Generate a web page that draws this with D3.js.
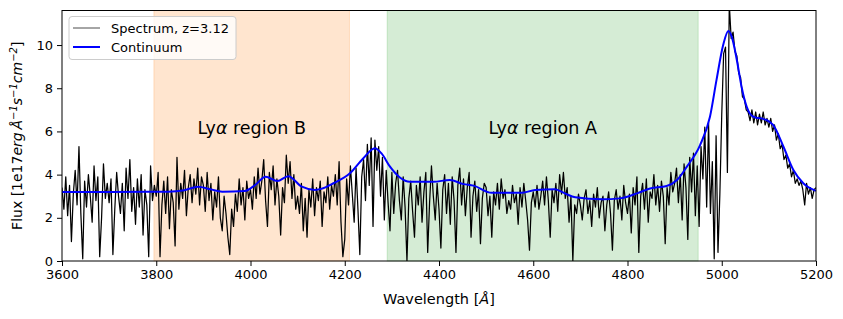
<!DOCTYPE html>
<html>
<head>
<meta charset="utf-8">
<script src="https://cdn.jsdelivr.net/npm/d3@7"></script>
<style>
  body { margin: 0; background: #fff; }
  svg { font-family: "DejaVu Sans", sans-serif; }
</style>
</head>
<body>
<div class="svgWrap"></div>
<script>
// observed spectrum, flux sampled every 4 A from 3600 A
var waveStart = 3600;
var waveStep = 4;
var flux = [
  3.4, 2.4, 3.9, 2.1, 3.5, 0.9, 3.1, 4.2, 2.6, 5.3, 2.2, 0.1, 3.7, 2.5, 4.0, 3.0, 1.8, 4.4, 2.8, 3.9, 0.2, 2.0, 4.5, 2.9, 3.6,
  2.7, 3.8, 0.3, 2.4, 4.1, 3.0, 2.2, 3.6, 1.4, 4.3, 2.9, 4.7, 2.3, 3.4, 1.7, 3.8, 2.5, 4.0, 1.2, 3.3, 2.6, 0.2, 4.4, 2.8, 3.5,
  3.0, 4.1, 0.2, 2.6, 3.7, 2.2, 3.9, 1.5, 3.3, 2.7, 0.7, 4.8, 2.4, 3.6, 2.9, 4.2, 2.1, 3.4, 4.0, 2.7, 3.8, 3.1, 4.3, 2.6, 3.9,
  3.5, 2.3, 4.1, 2.8, 3.6, 1.9, 3.2, 2.5, 3.9, 2.0, 1.4, 3.0, 2.2, 1.1, 0.3, 2.4, 1.6, 3.1, 2.3, 3.8, 2.6, 3.4, 1.9, 3.7, 2.9,
  3.3, 2.4, 3.9, 2.9, 4.3, 3.1, 3.7, 4.7, 2.8, 1.6, 4.1, 3.3, 4.4, 2.6, 3.8, 3.0, 1.2, 3.4, 2.7, 4.9, 3.6, 4.6, 2.9, 4.0, 2.4,
  3.0, 2.2, 3.6, 1.4, 2.9, 1.1, 3.3, 2.5, 3.8, 2.1, 3.4, 2.8, 3.7, 1.6, 3.2, 2.7, 3.9, 2.4, 3.5, 3.0, 4.0, 2.6, 4.6, 1.8, 0.2,
  1.0, 3.8, 2.6, 4.4, 3.1, 1.8, 4.3, 2.4, 0.3, 3.9, 4.7, 2.8, 5.4, 3.5, 5.7, 1.6, 5.6, 4.2, 5.3, 3.0, 4.8, 1.9, 4.2, 2.7, 1.4,
  4.1, 2.2, 3.6, 4.2, 2.8, 1.9, 3.9, 2.5, 0.0, 2.9, 3.7, 2.3, 1.1, 3.5, 2.6, 3.9, 1.8, 3.2, 4.1, 0.4, 2.7, 4.4, 3.0, 1.9, 3.6,
  2.4, 0.6, 3.3, 4.0, 2.2, 3.6, 1.7, 3.9, 2.8, 0.4, 3.5, 4.3, 2.6, 3.8, 2.1, 3.4, 4.1, 1.1, 3.0, 3.7, 2.3, 3.3, 0.8, 2.9, 3.6,
  3.4, 2.1, 3.0, 1.1, 3.2, 2.6, 3.6, 2.4, 3.8, 2.9, 3.3, 2.2, 2.8, 2.4, 3.5, 2.7, 3.1, 1.7, 3.4, 2.5, 3.6, 2.8, 1.9, 0.5, 2.7,
  3.2, 2.5, 3.5, 2.4, 3.0, 3.7, 2.6, 3.9, 2.8, 1.1, 3.3, 2.7, 3.6, 2.3, 4.0, 3.1, 4.1, 2.9, 3.4, 1.8, 3.0, 0.0, 2.6, 2.2, 3.1,
  2.6, 1.9, 2.9, 3.3, 2.2, 2.8, 1.6, 3.1, 2.5, 3.4, 2.0, 2.7, 3.0, 1.4, 2.6, 3.2, 2.2, 0.5, 2.8, 3.3, 2.4, 3.0, 1.9, 3.5, 2.7,
  2.2, 3.1, 1.3, 3.4, 2.6, 3.9, 0.4, 3.0, 3.6, 2.4, 3.8, 1.8, 3.2, 2.9, 4.0, 2.6, 3.5, 2.3, 3.7, 3.0, 0.8, 3.4, 2.6, 4.1, 3.2,
  3.6, 4.3, 2.7, 4.0, 1.9, 4.5, 3.4, 1.0, 4.8, 3.2, 5.0, 2.1, 4.4, 1.6, 5.3, 3.8, 6.2, 2.5, 6.4, 2.2, 4.6, 0.1, 5.8, 0.4, 3.1,
  6.8, 9.6, 9.9, 4.1, 11.9, 10.3, 10.6, 9.7, 9.5, 8.7, 8.5, 7.6, 7.5, 7.0, 6.9, 6.5, 7.0, 6.4, 6.9, 6.3, 6.8, 6.4, 6.9, 6.3, 6.6,
  6.2, 6.6, 6.0, 6.3, 5.6, 5.9, 5.2, 5.4, 4.7, 4.9, 4.3, 4.5, 3.9, 4.2, 3.6, 3.8, 3.5, 3.7, 3.3, 2.6, 3.6, 3.1, 3.4, 2.9, 3.3,
  3.4
];

// fitted continuum
var contWave = [3600, 3700, 3825, 3860, 3889, 3915, 3940, 3988, 4010, 4032, 4057, 4080, 4109, 4137, 4150, 4176, 4211, 4239, 4264, 4278, 4296, 4317, 4338, 4388, 4423, 4452, 4473, 4512, 4576, 4604, 4646, 4667, 4689, 4746, 4784, 4820, 4848, 4883, 4905, 4926, 4954, 4975, 4989, 5003, 5014, 5021, 5032, 5042, 5053, 5067, 5095, 5109, 5131, 5152, 5173, 5200];
var contFlux = [3.2, 3.2, 3.21, 3.28, 3.44, 3.32, 3.21, 3.24, 3.52, 3.90, 3.70, 3.93, 3.44, 3.29, 3.34, 3.60, 4.06, 4.75, 5.22, 4.98, 4.37, 3.87, 3.67, 3.67, 3.75, 3.56, 3.49, 3.16, 3.16, 3.29, 3.32, 3.13, 2.95, 2.86, 2.90, 3.13, 3.36, 3.47, 3.75, 4.37, 5.37, 6.68, 8.4, 10.0, 10.65, 10.4, 9.31, 8.07, 7.14, 6.68, 6.53, 6.3, 5.29, 4.21, 3.6, 3.25];

// shaded regions
var regionNames = ["B", "A"];
var regionStart = [3795, 4290];
var regionEnd = [4210, 4950];
var regionColors = ["#ff7f0e", "#2ca02c"];

var xTicks = [3600, 3800, 4000, 4200, 4400, 4600, 4800, 5000, 5200];
var yTicks = [0, 2, 4, 6, 8, 10];

var W = 843, H = 319;
var margin = {top: 10.5, right: 27, bottom: 58, left: 62};
var width = W - margin.left - margin.right;
var height = H - margin.top - margin.bottom;

var svg = d3.select(".svgWrap").append("svg")
  .attr("width", W)
  .attr("height", H);

var g = svg.append("g")
  .attr("transform", "translate(" + margin.left + "," + margin.top + ")");

var x = d3.scaleLinear().domain([3600, 5200]).range([0, width]);
var y = d3.scaleLinear().domain([0, 11.6]).range([height, 0]);

g.append("clipPath").attr("id", "clip")
  .append("rect").attr("width", width).attr("height", height);

// regions
g.selectAll(".region")
  .data(regionNames)
  .enter().append("rect")
  .attr("x", function(d, i) { return x(regionStart[i]); })
  .attr("width", function(d, i) { return x(regionEnd[i]) - x(regionStart[i]); })
  .attr("y", 0)
  .attr("height", height)
  .attr("fill", function(d, i) { return regionColors[i]; })
  .attr("fill-opacity", 0.2)
  .attr("stroke", function(d, i) { return regionColors[i]; })
  .attr("stroke-opacity", 0.2)
  .attr("stroke-width", 1);

// spectrum
var line = d3.line()
  .x(function(d, i) { return x(waveStart + i * waveStep); })
  .y(function(d) { return y(d); });

g.append("path")
  .datum(flux)
  .attr("clip-path", "url(#clip)")
  .attr("fill", "none")
  .attr("stroke", "#000")
  .attr("stroke-width", 1.25)
  .attr("stroke-linejoin", "round")
  .attr("d", line);

// continuum
var contLine = d3.line()
  .curve(d3.curveMonotoneX)
  .x(function(d, i) { return x(contWave[i]); })
  .y(function(d) { return y(d); });

g.append("path")
  .datum(contFlux)
  .attr("fill", "none")
  .attr("stroke", "#0000ff")
  .attr("stroke-width", 2)
  .attr("d", contLine);

// region labels
var rl = g.selectAll(".rlabel")
  .data(regionNames)
  .enter().append("text")
  .attr("x", function(d, i) { return (x(regionStart[i]) + x(regionEnd[i])) / 2; })
  .attr("y", 123)
  .attr("text-anchor", "middle")
  .style("font-size", "17.5px");
rl.append("tspan").text("Ly");
rl.append("tspan").attr("font-style", "italic").text("\u03b1");
rl.append("tspan").text(function(d) { return " region " + d; });

// axes
var xAxis = g.append("g")
  .attr("transform", "translate(0," + height + ")")
  .call(d3.axisBottom(x).tickValues(xTicks).tickSize(5).tickPadding(4).tickFormat(d3.format("d")));
var yAxis = g.append("g")
  .call(d3.axisLeft(y).tickValues(yTicks).tickSize(5).tickPadding(4));

[xAxis, yAxis].forEach(function(a) {
  a.selectAll("text").style("font-size", "13px").attr("fill", "#000").style("font-family", "DejaVu Sans");
  a.selectAll("line").attr("stroke", "#000").attr("stroke-width", 1);
  a.select(".domain").remove();
});

// frame
g.append("rect")
  .attr("width", width)
  .attr("height", height)
  .attr("fill", "none")
  .attr("stroke", "#000")
  .attr("stroke-width", 1);

// axis titles
svg.append("text")
  .attr("x", margin.left + width / 2)
  .attr("y", 304)
  .attr("text-anchor", "middle")
  .style("font-size", "14.5px")
  .html("Wavelength [<tspan font-style='italic'>\u00c5</tspan>]");

var yl = svg.append("text")
  .attr("transform", "translate(22," + (margin.top + height / 2) + ") rotate(-90)")
  .attr("text-anchor", "middle")
  .style("font-size", "14px");
yl.append("tspan").text("Flux [1e17");
var it = yl.append("tspan").attr("font-style", "italic");
it.append("tspan").text("erg\u2009\u00c5");
it.append("tspan").attr("dy", -5).style("font-size", "10px").text("\u22121");
it.append("tspan").attr("dy", 5).text("s");
it.append("tspan").attr("dy", -5).style("font-size", "10px").text("\u22121");
it.append("tspan").attr("dy", 5).text("cm");
it.append("tspan").attr("dy", -5).style("font-size", "10px").text("\u22122");
yl.append("tspan").attr("dy", 5).text("]");

// legend
var lg = g.append("g").attr("transform", "translate(0,0)");
lg.append("rect")
  .attr("x", 7)
  .attr("y", 6)
  .attr("width", 167)
  .attr("height", 43)
  .attr("rx", 3)
  .attr("fill", "#fff")
  .attr("fill-opacity", 0.8)
  .attr("stroke", "#cccccc")
  .attr("stroke-width", 1);
var legNames = ["Spectrum, z=3.12", "Continuum"];
var legColors = ["#000", "#0000ff"];
var legWidths = [1, 2];
legNames.forEach(function(n, i) {
  lg.append("line")
    .attr("x1", 11).attr("x2", 38)
    .attr("y1", 17.5 + i * 19).attr("y2", 17.5 + i * 19)
    .attr("stroke", legColors[i])
    .attr("stroke-opacity", i == 0 ? 0.7 : 1)
    .attr("stroke-width", legWidths[i]);
  lg.append("text")
    .attr("x", 49)
    .attr("y", 22 + i * 19)
    .style("font-size", "13px")
    .text(n);
});
</script>
</body>
</html>
